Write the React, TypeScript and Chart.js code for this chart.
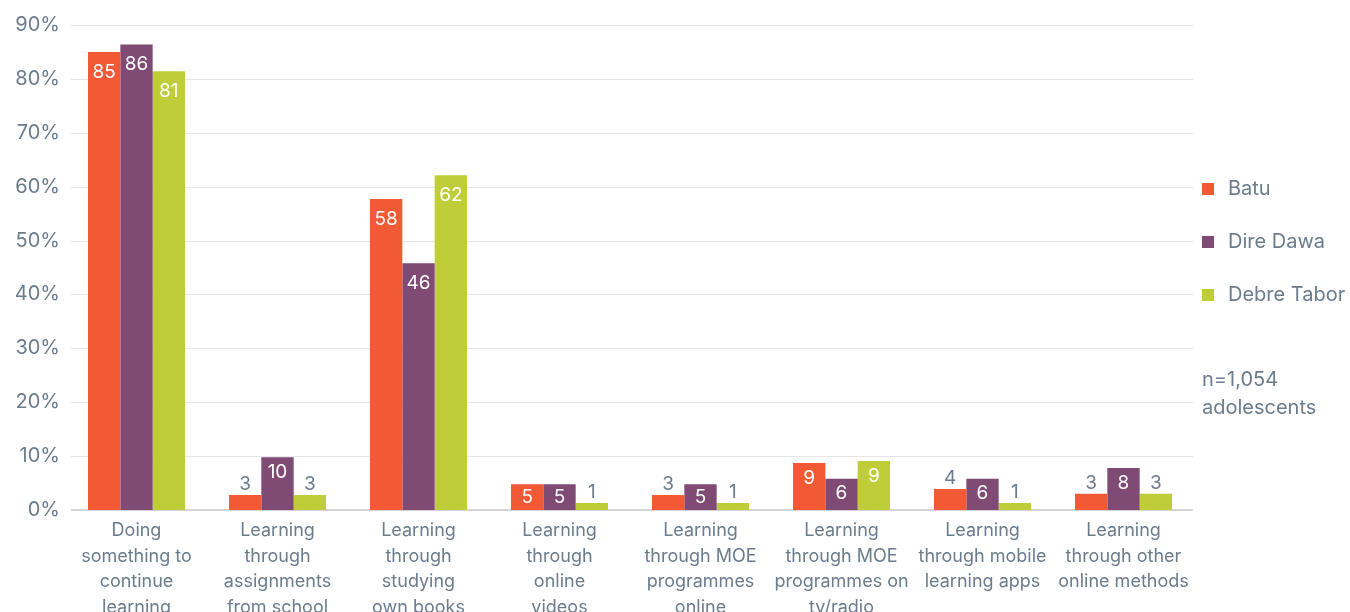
import React, { useEffect, useRef } from "react";
import { Chart, registerables } from "chart.js";

Chart.register(...registerables);

const categories: string[][] = [
  ["Doing", "something to", "continue", "learning"],
  ["Learning", "through", "assignments", "from school"],
  ["Learning", "through", "studying", "own books"],
  ["Learning", "through", "online", "videos"],
  ["Learning", "through MOE", "programmes", "online"],
  ["Learning", "through MOE", "programmes on", "tv/radio"],
  ["Learning", "through mobile", "learning apps"],
  ["Learning", "through other", "online methods"],
];

const batu = [85, 2.8, 57.7, 4.8, 2.8, 8.7, 3.9, 3.0];
const direDawa = [86.4, 9.8, 45.8, 4.8, 4.8, 5.8, 5.8, 7.8];
const debreTabor = [81.4, 2.8, 62.1, 1.3, 1.3, 9.1, 1.3, 3.0];

const seriesNames = ["Batu", "Dire Dawa", "Debre Tabor"];
const seriesColors = ["#F15A35", "#7F4A73", "#BFCD38"];
const noteLines = ["n=1,054", "adolescents"];
const yTickValues = [0, 10, 20, 30, 40, 50, 60, 70, 80, 90];

const TEXT = "#6B7C8D";
const FONT = "Inter, 'Noto Sans', sans-serif";
const GRID_LEFT = 71;
const GRID_RIGHT = 1193;

const gridPlugin = {
  id: "customGrid",
  beforeDatasetsDraw(chart: any) {
    const ctx = chart.ctx;
    const y = chart.scales.y;
    ctx.save();
    yTickValues.forEach((v) => {
      const py = Math.round(y.getPixelForValue(v));
      if (v === 0) {
        ctx.strokeStyle = "#d4d4d4";
        ctx.lineWidth = 2;
      } else {
        ctx.strokeStyle = "#e6e6e6";
        ctx.lineWidth = 1;
      }
      ctx.beginPath();
      const off = v === 0 ? 0 : 0.5;
      ctx.moveTo(GRID_LEFT, py + off);
      ctx.lineTo(GRID_RIGHT, py + off);
      ctx.stroke();
    });
    ctx.restore();
  },
};

const labelPlugin = {
  id: "barLabels",
  afterDatasetsDraw(chart: any) {
    const ctx = chart.ctx;
    ctx.save();
    ctx.font = `19px ${FONT}`;
    ctx.textAlign = "center";
    ctx.textBaseline = "middle";
    chart.data.datasets.forEach((ds: any, di: number) => {
      const meta = chart.getDatasetMeta(di);
      meta.data.forEach((bar: any, i: number) => {
        const v = ds.data[i];
        const txt = String(Math.round(v));
        const top = bar.y;
        const h = bar.base - bar.y;
        if (v >= 4.5) {
          const off = h > 100 ? 20 : Math.min(h / 2, 15);
          ctx.fillStyle = "#ffffff";
          ctx.fillText(txt, bar.x, top + off);
        } else {
          ctx.fillStyle = TEXT;
          ctx.fillText(txt, bar.x, top - 11);
        }
      });
    });
    ctx.restore();
  },
};

const legendPlugin = {
  id: "sideLegend",
  afterDraw(chart: any) {
    const ctx = chart.ctx;
    ctx.save();
    ctx.font = `20px ${FONT}`;
    ctx.textBaseline = "middle";
    ctx.textAlign = "left";
    seriesNames.forEach((name, i) => {
      const y = 189 + i * 53;
      ctx.fillStyle = seriesColors[i];
      ctx.fillRect(1202, y - 6, 12, 12);
      ctx.fillStyle = TEXT;
      ctx.fillText(name, 1228, y);
    });
    noteLines.forEach((t, i) => {
      ctx.fillStyle = TEXT;
      ctx.fillText(t, 1202, 380 + i * 28);
    });
    ctx.restore();
  },
};

export default function App() {
  const ref = useRef<HTMLCanvasElement | null>(null);
  useEffect(() => {
    if (!ref.current) return;
    const chart = new Chart(ref.current, {
      type: "bar",
      data: {
        labels: categories,
        datasets: [
          { label: seriesNames[0], data: batu, backgroundColor: seriesColors[0] },
          { label: seriesNames[1], data: direDawa, backgroundColor: seriesColors[1] },
          { label: seriesNames[2], data: debreTabor, backgroundColor: seriesColors[2] },
        ],
      },
      options: {
        animation: false,
        responsive: false,
        maintainAspectRatio: false,
        layout: { padding: { left: 0, right: 156, top: 25, bottom: 0 } },
        datasets: { bar: { barPercentage: 1, categoryPercentage: 0.688 } },
        plugins: { legend: { display: false }, tooltip: { enabled: false } },
        scales: {
          x: {
            grid: { display: false, drawTicks: false },
            border: { display: false },
            ticks: {
              color: TEXT,
              font: { family: FONT, size: 18, lineHeight: 1.42 },
              padding: 8,
              maxRotation: 0,
              autoSkip: false,
            },
            afterFit: (s: any) => {
              s.height = 102;
            },
          },
          y: {
            min: 0,
            max: 90,
            grid: { display: false, drawTicks: false },
            border: { display: false },
            ticks: {
              stepSize: 10,
              color: TEXT,
              font: { family: FONT, size: 20 },
              padding: 6,
              callback: (v: any) => `${v}%`,
            },
            afterFit: (s: any) => {
              s.width = 66;
            },
          },
        },
      },
      plugins: [gridPlugin, labelPlugin, legendPlugin],
    });
    return () => chart.destroy();
  }, []);
  return (
    <div style={{ position: "fixed", left: 0, top: 0, width: 1350, height: 612, background: "#fff" }}>
      <canvas ref={ref} width={1350} height={612} style={{ width: 1350, height: 612, display: "block" }} />
    </div>
  );
}
